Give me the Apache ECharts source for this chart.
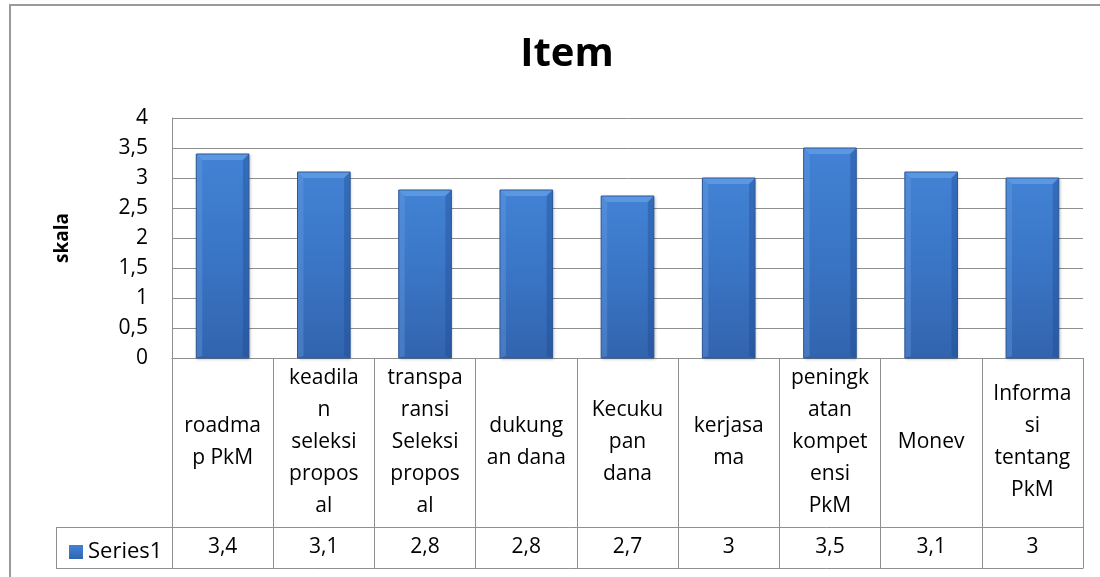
<!DOCTYPE html>
<html>
<head>
<meta charset="utf-8">
<script src="https://cdn.jsdelivr.net/npm/echarts@6/dist/echarts.min.js"></script>
<style>
  html, body { margin: 0; padding: 0; background: #fff; }
  #main { width: 1100px; height: 577px; }
</style>
</head>
<body>
<div id="main"></div>
<script>
// data
var categories = [
  'roadma\np PkM',
  'keadila\nn\nseleksi\npropos\nal',
  'transpa\nransi\nSeleksi\npropos\nal',
  'dukung\nan dana',
  'Kecuku\npan\ndana',
  'kerjasa\nma',
  'peningk\natan\nkompet\nensi\nPkM',
  'Monev',
  'Informa\nsi\ntentang\nPkM'
];
var series1 = [3.4, 3.1, 2.8, 2.8, 2.7, 3, 3.5, 3.1, 3];
var seriesName = 'Series1';
var yTicks = { min: 0, max: 4, step: 0.5 };

function comma(v) { return String(v).replace('.', ','); }

var FONT = '"Open Sans", "Noto Sans", sans-serif';
var GRAY = '#8f8f8f';
var BAR_RATIO = 0.52;

// plot / table geometry
var plotLeft = 172, plotRight = 1083, plotTop = 118, plotBottom = 358;
var catRowBottom = 527, tableBottom = 568, legendCellLeft = 56;

var chart = echarts.init(document.getElementById('main'));

var barFill = new echarts.graphic.LinearGradient(0, 0, 0, 1, [
  { offset: 0, color: '#4282d4' },
  { offset: 0.5, color: '#3a75c5' },
  { offset: 1, color: '#3264ae' }
]);

// soft bevel drawn over each bar
function bevel(params, api) {
  var top = api.coord([api.value(0), api.value(1)]);
  var base = api.coord([api.value(0), 0]);
  var w = api.size([1, 0])[0] * BAR_RATIO;
  var l = top[0] - w / 2, r = top[0] + w / 2, t = top[1], b = base[1];
  var e = 6;
  return {
    type: 'group',
    children: [
      { type: 'polygon', shape: { points: [[l, t], [r, t], [r - e, t + e], [l + e, t + e]] },
        style: { fill: '#5c98e2' } },
      { type: 'polygon', shape: { points: [[l, t], [l + e, t + e], [l + e, b - 2], [l, b]] },
        style: { fill: 'rgba(110,160,230,0.35)' } },
      { type: 'polygon', shape: { points: [[r, t], [r - e, t + e], [r - e, b - 2], [r, b]] },
        style: { fill: 'rgba(30,70,140,0.35)' } },
      { type: 'rect', shape: { x: l, y: t, width: w, height: b - t },
        style: { fill: null, stroke: '#2c5896', lineWidth: 1 } }
    ]
  };
}

var option = {
  animation: false,
  backgroundColor: '#fff',
  textStyle: { fontFamily: FONT },
  title: {
    text: 'Item',
    left: 562,
    textAlign: 'center',
    top: 30,
    textStyle: { fontFamily: FONT, fontSize: 40, fontWeight: 'bold', color: '#000' }
  },
  legend: {
    data: [seriesName],
    left: 64,
    top: 536,
    icon: 'rect',
    itemWidth: 14,
    itemHeight: 14,
    textStyle: { fontFamily: FONT, fontSize: 22, color: '#000' }
  },
  grid: {
    left: plotLeft,
    top: plotTop,
    width: plotRight - plotLeft,
    height: plotBottom - plotTop,
    containLabel: false
  },
  xAxis: [
    {
      type: 'category',
      data: categories,
      boundaryGap: true,
      axisLine: { show: true, lineStyle: { color: GRAY, width: 1 } },
      axisTick: { show: true, interval: 0, length: tableBottom - plotBottom, lineStyle: { color: GRAY, width: 1 } },
      axisLabel: {
        interval: 0,
        margin: (catRowBottom - plotBottom) / 2,
        verticalAlign: 'middle',
        align: 'center',
        fontFamily: FONT,
        fontSize: 21,
        lineHeight: 32,
        color: '#000'
      }
    },
    {
      type: 'category',
      position: 'bottom',
      offset: catRowBottom - plotBottom,
      data: series1.map(comma),
      axisLine: { show: false },
      axisTick: { show: false },
      axisLabel: {
        interval: 0,
        margin: (tableBottom - catRowBottom) / 2,
        verticalAlign: 'middle',
        fontFamily: FONT,
        fontSize: 21,
        color: '#000'
      }
    }
  ],
  yAxis: {
    type: 'value',
    min: yTicks.min,
    max: yTicks.max,
    interval: yTicks.step,
    name: 'skala',
    nameLocation: 'middle',
    nameRotate: 90,
    nameGap: 100,
    nameTextStyle: { fontFamily: FONT, fontSize: 19, fontWeight: 'bold', color: '#000' },
    axisLine: { show: true, lineStyle: { color: GRAY, width: 1 } },
    axisTick: { show: false },
    axisLabel: {
      margin: 24,
      fontFamily: FONT,
      fontSize: 21,
      color: '#000',
      formatter: function (v) { return comma(v); }
    },
    splitLine: { show: true, lineStyle: { color: GRAY, width: 1 } }
  },
  series: [
    {
      name: seriesName,
      type: 'bar',
      xAxisIndex: 0,
      data: series1,
      barWidth: (BAR_RATIO * 100) + '%',
      itemStyle: {
        color: barFill,
        shadowColor: 'rgba(0,0,0,0.3)',
        shadowBlur: 3,
        shadowOffsetX: 1,
        shadowOffsetY: 1
      }
    },
    {
      type: 'custom',
      xAxisIndex: 0,
      silent: true,
      z: 3,
      renderItem: bevel,
      data: series1.map(function (v, i) { return [i, v]; })
    }
  ],
  graphic: [
    // outer chart frame (runs off the right and bottom of the picture)
    { type: 'rect', shape: { x: 10, y: 5, width: 1200, height: 700 },
      style: { fill: null, stroke: '#9a9a9a', lineWidth: 2 }, silent: true },
    // data table horizontal rules
    { type: 'line', shape: { x1: legendCellLeft, y1: catRowBottom + 0.5, x2: plotRight + 0.5, y2: catRowBottom + 0.5 },
      style: { stroke: GRAY, lineWidth: 1 }, silent: true },
    { type: 'line', shape: { x1: legendCellLeft, y1: tableBottom + 0.5, x2: plotRight + 0.5, y2: tableBottom + 0.5 },
      style: { stroke: GRAY, lineWidth: 1 }, silent: true },
    { type: 'line', shape: { x1: legendCellLeft + 0.5, y1: catRowBottom, x2: legendCellLeft + 0.5, y2: tableBottom + 1 },
      style: { stroke: GRAY, lineWidth: 1 }, silent: true }
  ]
};

chart.setOption(option);
</script>
</body>
</html>
